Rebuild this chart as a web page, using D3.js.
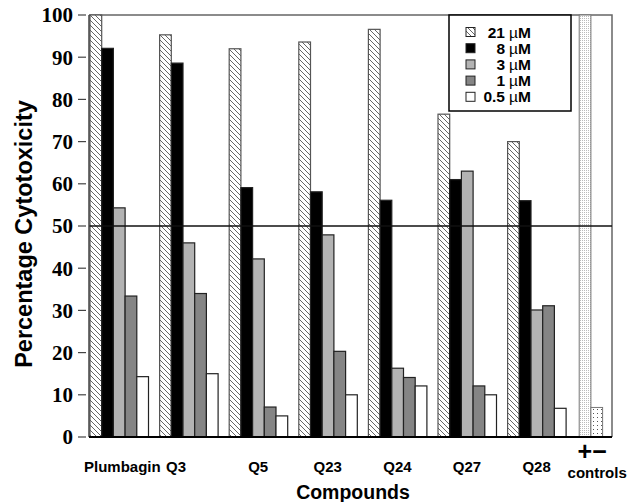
<!DOCTYPE html>
<html><head><meta charset="utf-8">
<script src="https://cdn.jsdelivr.net/npm/d3@7"></script>
<style>body{margin:0;background:#fff}svg{display:block}</style>
</head><body>
<script>
const groups = ["Plumbagin","Q3","Q5","Q23","Q24","Q27","Q28"];
const concNumbers = ["21","8","3","1","0.5"];
const c21 = [100, 95.3, 92.0, 93.6, 96.6, 76.5, 70.0];
const c8  = [92.1, 88.6, 59.1, 58.1, 56.1, 61.0, 56.0];
const c3  = [54.3, 46.0, 42.2, 47.9, 16.3, 63.0, 30.1];
const c1  = [33.4, 34.0, 7.1, 20.3, 14.1, 12.1, 31.1];
const c05 = [14.3, 15.0, 5.0, 10.0, 12.1, 10.0, 6.8];
const controlLabels = ["+","−"];
const controlValues = [100, 7.0];
const yTicks = [0,10,20,30,40,50,60,70,80,90,100];
const threshold = 50;

const series = [c21, c8, c3, c1, c05];
const fills = ["url(#hatch)", "#000", "#b3b3b3", "#858585", "#fff"];

const W = 630, H = 502;
const svg = d3.select("body").append("svg").attr("width", W).attr("height", H);
const defs = svg.append("defs");
const hp = defs.append("pattern").attr("id","hatch").attr("patternUnits","userSpaceOnUse")
  .attr("width",5).attr("height",5);
hp.append("rect").attr("width",5).attr("height",5).attr("fill","#fff");
hp.append("path").attr("d","M-1,-1 L6,6 M-1,4 L1,6 M4,-1 L6,1").attr("stroke","#555").attr("stroke-width",0.9);
const gp = defs.append("pattern").attr("id","grid").attr("patternUnits","userSpaceOnUse")
  .attr("width",2).attr("height",2);
gp.append("rect").attr("width",2).attr("height",2).attr("fill","#fff");
gp.append("rect").attr("width",1).attr("height",1).attr("fill","#bbb");
const dp = defs.append("pattern").attr("id","dots").attr("patternUnits","userSpaceOnUse")
  .attr("width",4).attr("height",4);
dp.append("rect").attr("width",4).attr("height",4).attr("fill","#fff");
dp.append("rect").attr("x",1).attr("y",1).attr("width",1).attr("height",1).attr("fill","#555");

const pLeft = 90, pTop = 15, pBottom = 437, pRight = 612;
const y = d3.scaleLinear().domain([0,100]).range([pBottom, pTop]);
const xg = d3.scaleBand().domain(groups.concat(["controls"])).range([pLeft, pLeft + 8*69.6]).padding(0);
const xb = d3.scaleBand().domain(concNumbers).range([0, 58.5]).padding(0);

// frame
svg.append("path").attr("d",`M${pLeft-1},${pTop} H${pRight} V${pBottom}`).attr("fill","none").attr("stroke","#666").attr("stroke-width",1.5);

// bars
series.forEach((vals, si) => {
  svg.append("g").selectAll("rect").data(vals).join("rect")
    .attr("x", (d,i) => xg(groups[i]) + xb(concNumbers[si]))
    .attr("width", xb.bandwidth())
    .attr("y", d => y(d))
    .attr("height", d => y(0) - y(d))
    .attr("fill", fills[si])
    .attr("stroke", si === 0 ? "#555" : "#222")
    .attr("stroke-width", 1.2);
});
// controls
svg.append("g").selectAll("rect").data(controlValues).join("rect")
  .attr("x", (d,i) => xg("controls") + 2 + i*xb.bandwidth())
  .attr("width", xb.bandwidth())
  .attr("y", d => y(d))
  .attr("height", d => y(0) - y(d))
  .attr("fill", (d,i) => i === 0 ? "url(#grid)" : "url(#dots)")
  .attr("stroke", "#777").attr("stroke-width", 1);

// threshold line
svg.append("line").attr("x1", pLeft-1).attr("x2", pRight).attr("y1", y(threshold)).attr("y2", y(threshold))
  .attr("stroke","#111").attr("stroke-width",1.6);

// axes lines
svg.append("line").attr("x1", pLeft-1).attr("x2", pLeft-1).attr("y1", pTop).attr("y2", pBottom).attr("stroke","#444").attr("stroke-width",1.5);
svg.append("line").attr("x1", pLeft-1).attr("x2", pRight).attr("y1", pBottom).attr("y2", pBottom).attr("stroke","#000").attr("stroke-width",2);

// y ticks
const yt = svg.append("g");
yTicks.forEach(t => {
  yt.append("line").attr("x1", 78).attr("x2", 86).attr("y1", y(t)).attr("y2", y(t)).attr("stroke","#444").attr("stroke-width",1.2);
  yt.append("text").attr("x", 73).attr("y", y(t)).attr("dy","0.35em").attr("text-anchor","end")
    .attr("font-family","Liberation Serif, Times New Roman, serif").attr("font-weight","bold").attr("font-size",21).text(t);
});

// y label
svg.append("text").attr("transform","translate(32,234) rotate(-90)").attr("text-anchor","middle")
  .attr("font-family","Liberation Sans, Arial, sans-serif").attr("font-weight","bold").attr("font-size",23.5)
  .text("Percentage Cytotoxicity");

// x labels
const xl = svg.append("g").attr("font-family","Liberation Sans, Arial, sans-serif").attr("font-weight","bold").attr("font-size",15);
groups.forEach((g, i) => {
  const t = xl.append("text").attr("y", 472).text(g);
  if (i === 0) t.attr("x", 84).attr("text-anchor","start");
  else if (i === 1) t.attr("x", 166).attr("text-anchor","start");
  else t.attr("x", xg(g) + 29).attr("text-anchor","middle");
});
xl.append("text").attr("x", xg("controls") + 15).attr("y", 460).attr("text-anchor","middle").attr("font-size",25).text(controlLabels.join(""));
xl.append("text").attr("x", xg("controls") + 20).attr("y", 478).attr("text-anchor","middle").text("controls");

svg.append("text").attr("x", 353).attr("y", 499).attr("text-anchor","middle")
  .attr("font-family","Liberation Sans, Arial, sans-serif").attr("font-weight","bold").attr("font-size",19.5).text("Compounds");

// legend
const lg = svg.append("g");
lg.append("rect").attr("x",449).attr("y",15).attr("width",122).attr("height",96).attr("fill","#fff").attr("stroke","#000").attr("stroke-width",1.5);
concNumbers.forEach((c, i) => {
  const cy = 32 + i*16.2;
  lg.append("rect").attr("x",466).attr("y",cy-4.5).attr("width",9).attr("height",9)
    .attr("fill", fills[i]).attr("stroke","#222").attr("stroke-width",1);
  lg.append("text").attr("x",505).attr("y",cy).attr("dy","0.36em").attr("text-anchor","end")
    .attr("font-family","Liberation Sans, Arial, sans-serif").attr("font-weight","bold").attr("font-size",15.5).text(c);
  const t = lg.append("text").attr("x",509).attr("y",cy).attr("dy","0.36em")
    .attr("font-family","Liberation Sans, Arial, sans-serif").attr("font-size",15.5);
  t.append("tspan").text("µ");
  t.append("tspan").attr("font-weight","bold").text("M");
});
</script>
</body></html>
